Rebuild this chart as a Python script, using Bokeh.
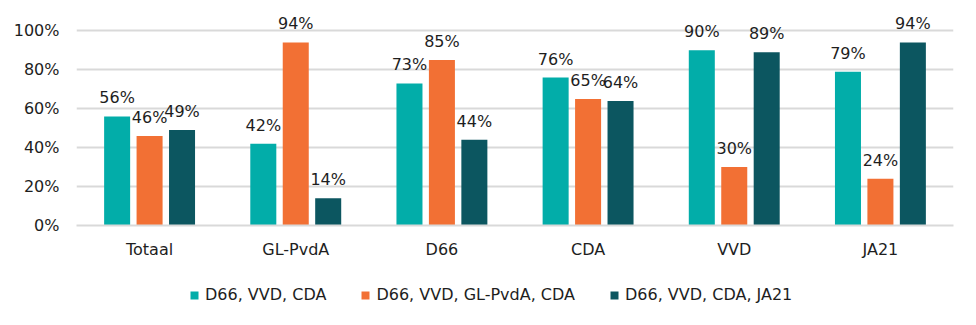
from bokeh.plotting import figure
from bokeh.layouts import column
from bokeh.models import Legend, LegendItem, ColumnDataSource, PrintfTickFormatter, FixedTicker, Range1d
from bokeh.transform import dodge
from bokeh.core.properties import value
from bokeh.embed import file_html
from bokeh.resources import INLINE

categories = ["Totaal", "GL-PvdA", "D66", "CDA", "VVD", "JA21"]
series_names = ["D66, VVD, CDA", "D66, VVD, GL-PvdA, CDA", "D66, VVD, CDA, JA21"]
s1 = [56, 42, 73, 76, 90, 79]
s2 = [46, 94, 85, 65, 30, 24]
s3 = [49, 14, 44, 64, 89, 94]
colors = ["#02ADA9", "#F27034", "#0C5660"]
yticks = [0, 20, 40, 60, 80, 100]

FONT = "DejaVu Sans"
TXT = "#1e1e1e"
FS = "16px"

p = figure(x_range=categories, y_range=Range1d(0, 113),
           frame_width=877, frame_height=220,
           output_backend="svg", toolbar_location=None,
           min_border_left=76, min_border_right=23, min_border_top=5, min_border_bottom=40)
p.outline_line_color = None

# separate strip that holds the legend, below the chart
lg = figure(x_range=p.x_range, y_range=Range1d(1000, 1001),
            frame_width=976, frame_height=60,
            output_backend="svg", toolbar_location=None,
            x_axis_location=None, y_axis_location=None,
            min_border_left=0, min_border_right=0, min_border_top=0, min_border_bottom=0)
lg.outline_line_color = None
lg.grid.visible = False

offsets = [-0.222, 0.0, 0.222]
items = []
for vals, name, col, off in zip([s1, s2, s3], series_names, colors, offsets):
    src = ColumnDataSource(dict(cat=categories, val=vals, lab=[f"{v}%" for v in vals]))
    p.vbar(x=dodge("cat", off, range=p.x_range), top="val", width=0.178, source=src,
           fill_color=col, line_color=None)
    p.text(x=dodge("cat", off, range=p.x_range), y="val", text="lab", source=src,
           text_align="center", text_baseline="bottom", y_offset=-9,
           text_font=value(FONT), text_font_size=FS, text_color=TXT)
    r = lg.vbar(x=dodge("cat", off, range=p.x_range), top="val", width=0.178, source=src,
                fill_color=col, line_color=None)
    items.append(LegendItem(label=name, renderers=[r]))

legend = Legend(items=items, orientation="horizontal", location=(189, 21),
                label_text_font=FONT, label_text_font_size=FS, label_text_color=TXT,
                glyph_width=10, glyph_height=10, label_standoff=6, spacing=34,
                border_line_color=None, background_fill_alpha=0, padding=0, margin=0)
lg.add_layout(legend, "center")

p.yaxis.ticker = FixedTicker(ticks=yticks)
p.yaxis.formatter = PrintfTickFormatter(format="%d%%")
p.yaxis.axis_line_color = None
p.yaxis.major_tick_line_color = None
p.yaxis.minor_tick_line_color = None
p.yaxis.major_label_standoff = 11
p.yaxis.major_label_text_font = FONT
p.yaxis.major_label_text_font_size = FS
p.yaxis.major_label_text_color = TXT

p.xaxis.axis_line_color = "#D9D9D9"
p.xaxis.axis_line_width = 2
p.xaxis.major_tick_line_color = None
p.xaxis.minor_tick_line_color = None
p.xaxis.major_label_standoff = 8
p.xaxis.major_label_text_font = FONT
p.xaxis.major_label_text_font_size = FS
p.xaxis.major_label_text_color = TXT

p.xgrid.grid_line_color = None
p.ygrid.ticker = FixedTicker(ticks=yticks)
p.ygrid.grid_line_color = "#D9D9D9"
p.ygrid.grid_line_width = 2
p.x_range.range_padding = 0

layout = column(p, lg, spacing=0)
open("out.html", "w").write(file_html(layout, INLINE))
